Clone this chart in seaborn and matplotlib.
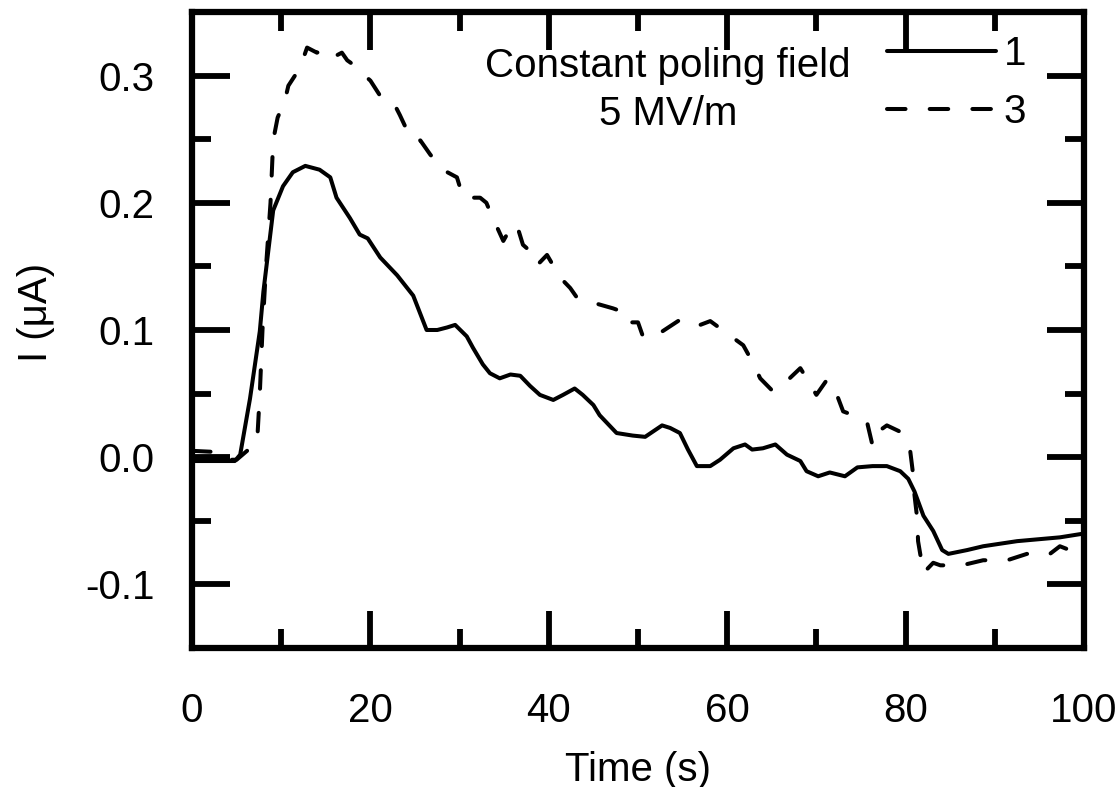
import numpy as np
import pandas as pd
import matplotlib
matplotlib.use("Agg")
import matplotlib.pyplot as plt
import seaborn as sns
from matplotlib.ticker import FixedLocator, MultipleLocator

# ---- data ----
t1 = [0, 2, 4.8, 5.4, 6.5, 7.6, 8.0, 9.1, 10.2, 11.3, 12.7, 14.3, 15.5, 16.2, 17.7,
      18.8, 19.7, 21.1, 23.0, 24.8, 26.3, 27.5, 28.6, 29.5, 30.8, 31.5, 32.6, 33.4,
      34.5, 35.7, 36.8, 37.9, 39.0, 40.5, 41.6, 42.9, 43.8, 45.0, 45.7, 47.6, 49.4,
      50.8, 52.7, 53.6, 54.7, 55.6, 56.6, 58.1, 59.2, 60.7, 62.0, 62.8, 64.0, 65.4,
      66.7, 68.2, 68.9, 70.2, 71.5, 73.2, 74.6, 76.3, 77.9, 79.4, 80.3, 81.0, 82.0,
      83.1, 84.1, 84.8, 86.9, 88.7, 92.5, 97.3, 100]
i1 = [-0.003, -0.003, -0.003, 0.002, 0.046, 0.099, 0.13, 0.194, 0.213, 0.224, 0.229,
      0.226, 0.22, 0.204, 0.188, 0.175, 0.172, 0.157, 0.143, 0.127, 0.1, 0.1, 0.102,
      0.104, 0.095, 0.086, 0.073, 0.066, 0.062, 0.065, 0.064, 0.056, 0.049, 0.045,
      0.049, 0.054, 0.049, 0.041, 0.033, 0.019, 0.017, 0.016, 0.025, 0.023, 0.019,
      0.006, -0.007, -0.007, -0.002, 0.007, 0.01, 0.006, 0.007, 0.01, 0.002, -0.003,
      -0.011, -0.015, -0.012, -0.015, -0.008, -0.007, -0.007, -0.011, -0.017, -0.027,
      -0.046, -0.058, -0.073, -0.076, -0.073, -0.070, -0.066, -0.063, -0.060]

t3 = [0, 3, 4, 5, 6.5, 7.0, 7.3, 7.6, 7.9, 8.3, 8.8, 9.1, 9.6, 10.4, 10.8, 12.1, 12.9,
      14.0, 14.7, 15.7, 16.8, 17.4, 18.0, 19.2, 20.0, 21.1, 22.5, 23.3, 24.1, 24.8,
      25.6, 26.7, 28.1, 29.7, 30.4, 32.3, 33.0, 33.6, 34.9, 35.7, 36.4, 37.1, 37.9,
      38.7, 39.8, 41.3, 42.4, 43.2, 45.7, 47.2, 48.0, 48.5, 50.0, 50.6, 52.1, 54.7,
      56.6, 58.1, 61.8, 62.9, 63.7, 65.1, 65.9, 67.0, 68.2, 68.9, 70.0, 71.2, 72.3,
      73.0, 74.9, 75.7, 76.3, 76.9, 77.9, 79.4, 80.5, 80.8, 81.0, 81.3, 81.4, 82.0,
      83.1, 83.9, 86.3, 88.7, 91.4, 93.6, 96.0, 97.3, 98.4, 100]
i3 = [0.005, 0.004, -0.002, -0.002, 0.007, 0.011, 0.012, 0.05, 0.1, 0.15, 0.2, 0.249,
      0.267, 0.28, 0.292, 0.306, 0.322, 0.318, 0.32, 0.314, 0.318, 0.312, 0.309, 0.301,
      0.296, 0.284, 0.28, 0.269, 0.257, 0.249, 0.249, 0.238, 0.226, 0.22, 0.204, 0.204,
      0.2, 0.19, 0.17, 0.18, 0.183, 0.167, 0.162, 0.151, 0.159, 0.141, 0.133, 0.125,
      0.12, 0.117, 0.115, 0.106, 0.106, 0.094, 0.096, 0.108, 0.103, 0.107, 0.088,
      0.074, 0.062, 0.052, 0.056, 0.062, 0.07, 0.062, 0.049, 0.061, 0.049, 0.036,
      0.031, 0.027, 0.009, 0.02, 0.025, 0.02, 0.006, -0.011, -0.03, -0.048, -0.066,
      -0.091, -0.083, -0.085, -0.085, -0.081, -0.081, -0.076, -0.077, -0.07, -0.073,
      -0.072]

series_labels = ["1", "3"]
x_ticks = [0, 20, 40, 60, 80, 100]
y_ticks = [-0.1, 0.0, 0.1, 0.2, 0.3]
y_tick_labels = ["-0.1", "0.0", "0.1", "0.2", "0.3"]
annotation_lines = ["Constant poling field", "5 MV/m"]

# ---- style ----
sns.set_theme(style="ticks")
plt.rcParams["font.family"] = ["Liberation Sans", "DejaVu Sans"]
plt.rcParams["text.color"] = "black"
FS = 29
LW = 2.9

fig = plt.figure(figsize=(11.19, 7.87), dpi=100)
ax = fig.add_axes([0.1716, 0.1766, 0.7971, 0.8082])

df1 = pd.DataFrame({"t": t1, "I": i1})
df3 = pd.DataFrame({"t": t3, "I": i3})

sns.lineplot(data=df1, x="t", y="I", ax=ax, color="black", lw=LW, estimator=None,
             sort=False, label=series_labels[0], solid_capstyle="round",
             solid_joinstyle="round")
sns.lineplot(data=df3, x="t", y="I", ax=ax, color="black", lw=LW, estimator=None,
             sort=False, label=series_labels[1], linestyle=(0, (4.6, 6.0)),
             dash_capstyle="round", dash_joinstyle="round")

ax.set_xlim(0, 100)
ax.set_ylim(-0.15, 0.35)
ax.xaxis.set_major_locator(FixedLocator(x_ticks))
ax.xaxis.set_minor_locator(MultipleLocator(10))
ax.yaxis.set_major_locator(FixedLocator(y_ticks))
ax.set_yticklabels(y_tick_labels)
ax.yaxis.set_minor_locator(MultipleLocator(0.05))

for s in ax.spines.values():
    s.set_linewidth(4.5)
    s.set_color("black")
    s.set_visible(True)

ax.tick_params(which="major", direction="in", length=27, width=4.2, color="black",
               top=True, right=True, labelsize=FS, labelcolor="black")
ax.tick_params(which="minor", direction="in", length=13.5, width=4.2, color="black",
               top=True, right=True)
ax.tick_params(axis="x", which="major", pad=32)
ax.tick_params(axis="y", which="major", pad=27)

ax.set_xlabel("Time (s)", fontsize=FS, color="black")
ax.set_ylabel("I (μA)", fontsize=FS, color="black")
ax.xaxis.set_label_coords(0.5, -0.162)
ax.yaxis.set_label_coords(-0.154, 0.528)

ax.text(0.5336, 0.897, annotation_lines[0], transform=ax.transAxes, ha="center",
        va="baseline", fontsize=FS, color="black")
ax.text(0.5336, 0.822, annotation_lines[1], transform=ax.transAxes, ha="center",
        va="baseline", fontsize=FS, color="black")

leg = ax.legend(loc="upper left", bbox_to_anchor=(0.779, 0.963), frameon=False,
                fontsize=FS, handlelength=2.7, handletextpad=0.2, labelspacing=0.475,
                borderpad=0, borderaxespad=0, labelcolor="black")

fig.savefig("out.png", dpi=100, facecolor="white")
